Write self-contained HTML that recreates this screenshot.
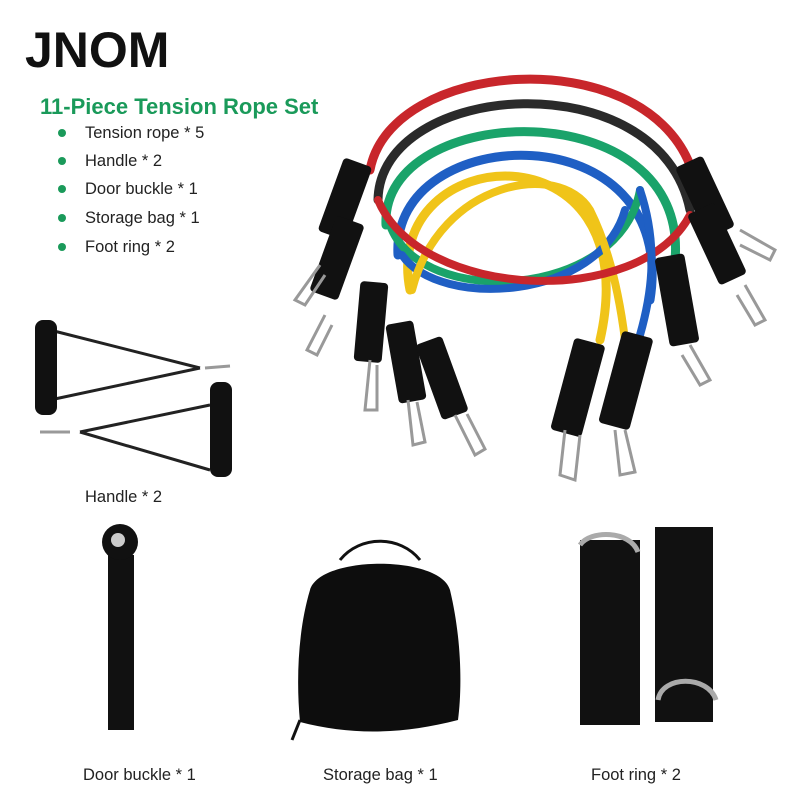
<!DOCTYPE html>
<html><head><meta charset="utf-8"><style>
html,body{margin:0;padding:0;background:#fff;}
#c{position:relative;width:800px;height:800px;overflow:hidden;font-family:"Liberation Sans",Arial,sans-serif;}
.t{position:absolute;white-space:nowrap;color:#222;}
</style></head><body><div id="c">
<svg width="800" height="800" style="position:absolute;left:0;top:0">
<g fill="none" stroke-linecap="round">
<path d="M370,170 C390,60 640,40 690,165" stroke="#c8262b" stroke-width="9"/>
<path d="M378,200 C380,80 660,60 690,210" stroke="#2a2a2a" stroke-width="9"/>
<path d="M386,225 C380,100 690,90 675,260" stroke="#1aa36a" stroke-width="9"/>
<path d="M398,255 C390,120 680,110 650,300" stroke="#1f5fc4" stroke-width="9"/>
<path d="M410,290 C380,140 650,120 600,340" stroke="#f0c419" stroke-width="9"/>
<path d="M390,225 C420,310 620,300 640,190" stroke="#1aa36a" stroke-width="8"/>
<path d="M402,255 C440,310 600,300 625,210" stroke="#1f5fc4" stroke-width="8"/>
<path d="M412,290 C440,180 560,160 590,210 C610,250 620,300 625,340" stroke="#f0c419" stroke-width="8"/>
<path d="M378,200 C420,300 640,310 690,215" stroke="#c8262b" stroke-width="8"/>
<path d="M640,190 C660,250 650,300 640,335" stroke="#1f5fc4" stroke-width="8"/>
</g>
<g fill="#111">
<rect x="330" y="160" width="30" height="78" rx="4" transform="rotate(20 345 199)"/>
<rect x="322" y="218" width="30" height="80" rx="4" transform="rotate(20 337 258)"/>
<rect x="357" y="282" width="28" height="80" rx="4" transform="rotate(5 371 322)"/>
<rect x="392" y="322" width="28" height="80" rx="4" transform="rotate(-10 406 362)"/>
<rect x="428" y="338" width="28" height="80" rx="4" transform="rotate(-20 442 378)"/>
<rect x="690" y="158" width="30" height="78" rx="4" transform="rotate(-25 705 197)"/>
<rect x="702" y="205" width="30" height="78" rx="4" transform="rotate(-25 717 244)"/>
<rect x="662" y="255" width="30" height="90" rx="4" transform="rotate(-10 677 300)"/>
<rect x="562" y="340" width="32" height="95" rx="4" transform="rotate(15 578 387)"/>
<rect x="610" y="333" width="32" height="95" rx="4" transform="rotate(15 626 380)"/>
</g>
<g fill="none" stroke="#999" stroke-width="3">
<path d="M320,265 l-25,35 l10,5 l20,-30"/>
<path d="M325,315 l-18,35 l10,5 l15,-30"/>
<path d="M370,360 l-5,50 l12,0 l0,-45"/>
<path d="M408,400 l5,45 l12,-3 l-8,-40"/>
<path d="M455,415 l20,40 l10,-6 l-18,-35"/>
<path d="M740,230 l35,20 l-5,10 l-30,-15"/>
<path d="M745,285 l20,35 l-10,5 l-18,-30"/>
<path d="M690,345 l20,35 l-10,5 l-18,-30"/>
<path d="M565,430 l-5,45 l15,5 l5,-45"/>
<path d="M615,430 l5,45 l15,-3 l-10,-42"/>
</g>
<g stroke="#222" stroke-width="3" fill="none">
<path d="M50,330 L200,368 M50,400 L200,368"/>
<path d="M80,432 L210,405 M80,432 L210,470"/>
</g>
<rect x="35" y="320" width="22" height="95" rx="8" fill="#111"/>
<rect x="210" y="382" width="22" height="95" rx="8" fill="#111"/>
<path d="M205,368 l25,-2" stroke="#999" stroke-width="3"/>
<path d="M70,432 l-30,0" stroke="#999" stroke-width="3"/>
<rect x="108" y="555" width="26" height="175" fill="#111"/>
<circle cx="120" cy="542" r="18" fill="#111"/><circle cx="118" cy="540" r="7" fill="#ccc"/>
<path d="M310,590 C320,555 440,555 450,590 C462,640 462,690 458,720 C400,735 350,735 300,722 C296,680 298,630 310,590 Z" fill="#0d0d0d"/>
<path d="M340,560 C360,535 400,535 420,560" stroke="#111" stroke-width="3" fill="none"/>
<path d="M300,720 l-8,20" stroke="#111" stroke-width="3"/>
<rect x="580" y="540" width="60" height="185" fill="#111"/>
<rect x="655" y="527" width="58" height="195" fill="#111"/>
<path d="M580,545 C590,530 630,530 638,552" stroke="#aaa" stroke-width="5" fill="none"/>
<path d="M658,700 C662,675 708,675 716,700" stroke="#aaa" stroke-width="5" fill="none"/>
<g fill="#1a9a5a"><circle cx="62" cy="133" r="4"/><circle cx="62" cy="161" r="4"/><circle cx="62" cy="189" r="4"/><circle cx="62" cy="218" r="4"/><circle cx="62" cy="247" r="4"/></g>
</svg>
<div class="t" style="left:25px;top:21px;font-size:50px;font-weight:bold;color:#111">JNOM</div>
<div class="t" style="left:40px;top:94px;font-size:22px;font-weight:bold;color:#1a9a5a">11-Piece Tension Rope Set</div>
<div class="t" style="left:85px;top:124px;font-size:16.5px">Tension rope * 5</div>
<div class="t" style="left:85px;top:152px;font-size:16.5px">Handle * 2</div>
<div class="t" style="left:85px;top:180px;font-size:16.5px">Door buckle * 1</div>
<div class="t" style="left:85px;top:209px;font-size:16.5px">Storage bag * 1</div>
<div class="t" style="left:85px;top:238px;font-size:16.5px">Foot ring * 2</div>
<div class="t" style="left:85px;top:488px;font-size:16.5px">Handle * 2</div>
<div class="t" style="left:83px;top:766px;font-size:16.5px">Door buckle * 1</div>
<div class="t" style="left:323px;top:766px;font-size:16.5px">Storage bag * 1</div>
<div class="t" style="left:591px;top:766px;font-size:16.5px">Foot ring * 2</div>
</div></body></html>
